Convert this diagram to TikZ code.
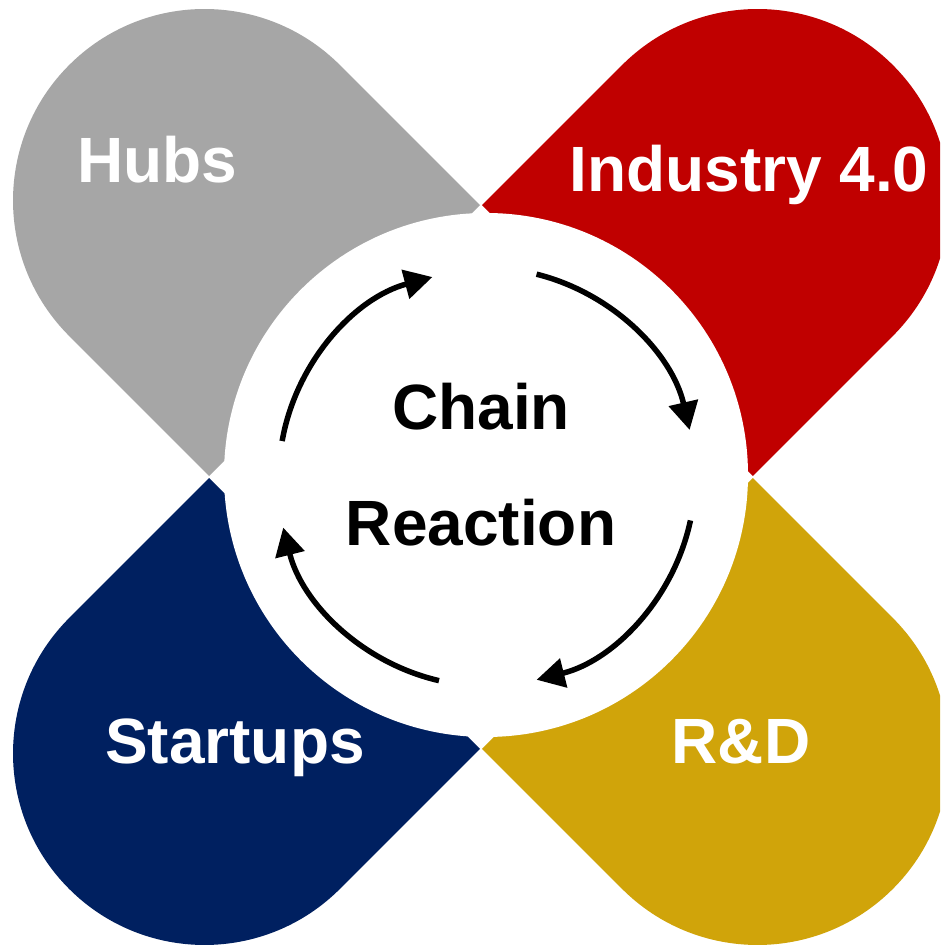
\documentclass[tikz,border=0pt]{standalone}
\usepackage{fontspec}
\setmainfont{Liberation Sans}
\usetikzlibrary{arrows.meta}
\definecolor{hubgray}{HTML}{A6A6A6}
\definecolor{indred}{HTML}{C00000}
\definecolor{stnavy}{HTML}{002060}
\definecolor{rdgold}{HTML}{D0A40A}
\tikzset{
  petalshape/.style={fill=#1, draw=none},
  cyclearrow/.style={draw=black, line width=5.5pt, -{Triangle[length=28pt,width=29pt]}},
  petallabel/.style={text=white, font=\bfseries\fontsize{64}{64}\selectfont, anchor=base, inner sep=0pt},
  centerlabel/.style={text=black, font=\bfseries\fontsize{64}{64}\selectfont, anchor=base, inner sep=0pt}
}
\newcommand{\petalpath}{(193,-191.5) -- (391,-191.5) arc[start angle=-90,end angle=90,radius=191.5] -- (193,191.5) -- cycle}
\begin{document}
\begin{tikzpicture}[x=1pt,y=1pt]
\useasboundingbox (0,0) rectangle (940,949);
\clip (0,0) rectangle (940,949);
\fill[white] (0,0) rectangle (940,949);
\coordinate (C) at (481,472);
\coordinate (A) at (486,472);
% petals
\begin{scope}[shift={(C)}, rotate=135]
  \fill[petalshape=hubgray] \petalpath;
\end{scope}
\begin{scope}[shift={(C)}, rotate=45]
  \fill[petalshape=indred] \petalpath;
\end{scope}
\begin{scope}[shift={(C)}, rotate=225]
  \fill[petalshape=stnavy] \petalpath;
\end{scope}
\begin{scope}[shift={(C)}, rotate=-45]
  \fill[petalshape=rdgold] \petalpath;
\end{scope}
% central white disc
\fill[white] (486,474) circle[radius=262];
% cycle arrows
\draw[cyclearrow] ([shift={(76:209)}]A) arc[start angle=76,end angle=13,radius=209];
\draw[cyclearrow] ([shift={(-12:209)}]A) arc[start angle=-12,end angle=-76,radius=209];
\draw[cyclearrow] ([shift={(-103:209)}]A) arc[start angle=-103,end angle=-166,radius=209];
\draw[cyclearrow] ([shift={(170:207)}]A) arc[start angle=170,end angle=105,radius=207];
% labels
\node[centerlabel] (chain) at (481,519) {Chain};
\node[centerlabel] (reaction) at (481,403) {Reaction};
\node[petallabel] (hubs) at (157,766) {Hubs};
\node[petallabel] (industry) at (749,757) {Industry 4.0};
\node[petallabel] (startups) at (235,185) {Startups};
\node[petallabel] (rd) at (741,185) {R\&D};
\end{tikzpicture}
\end{document}
